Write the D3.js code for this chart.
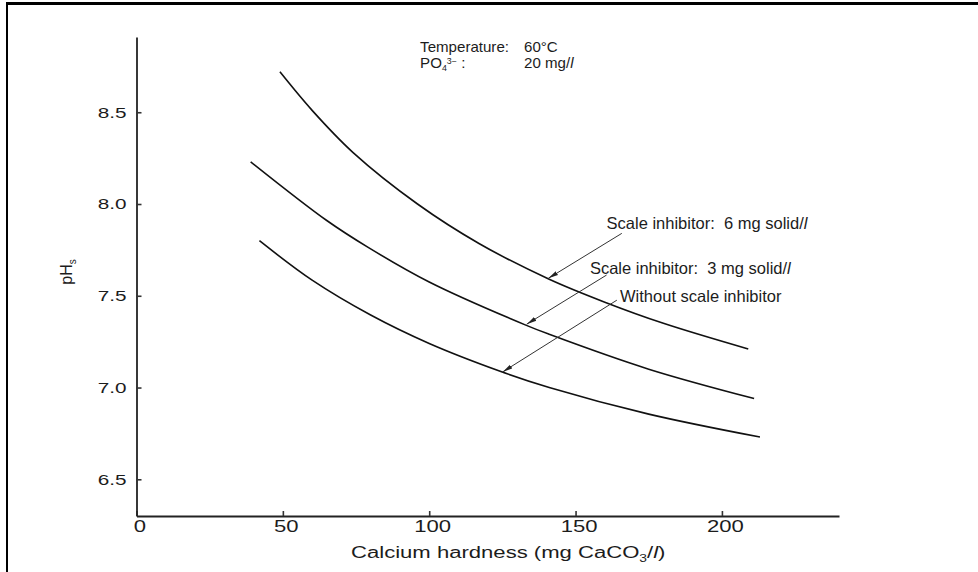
<!DOCTYPE html>
<html>
<head>
<meta charset="utf-8">
<script src="https://cdn.jsdelivr.net/npm/d3@7"></script>
<style>
    body { margin: 0; background: #fff; }
    text { font-family: "Liberation Sans", Arial, sans-serif; fill: #1c1c1c; white-space: pre; }
</style>
</head>
<body>
<svg id="chart" width="978" height="572"></svg>
<script>
// __________________________ data _______________________
// x = calcium hardness (mg CaCO3/l), y = pHs

var hardness6 = [49, 60, 74, 96, 117, 141, 160, 180, 209];
var ph6       = [8.72, 8.51, 8.28, 8.00, 7.785, 7.59, 7.465, 7.35, 7.21];

var hardness3 = [39, 65, 79, 100, 133, 141, 175, 211];
var ph3       = [8.23, 7.91, 7.765, 7.575, 7.34, 7.29, 7.10, 6.94];

var hardness0 = [42, 60, 80, 100, 124, 141, 175, 213];
var ph0       = [7.80, 7.585, 7.395, 7.24, 7.09, 7.00, 6.855, 6.73];

var seriesLabels = ["Scale inhibitor:  6 mg solid/l", "Scale inhibitor:  3 mg solid/l", "Without scale inhibitor"];
var labelAt   = [[160.6, 7.864], [154.9, 7.618], [165.2, 7.467]];
var arrowFrom = [[165.8, 7.84], [160.6, 7.613], [164.1, 7.476]];
var arrowTo   = [[140.7, 7.595], [133.3, 7.345], [125.1, 7.085]];

var xTicks = [0, 50, 100, 150, 200];
var yTicks = [6.5, 7.0, 7.5, 8.0, 8.5];
var xDomain = [0, 240];
var yDomain = [6.3, 8.91];

// ____________________________________________________________________________

var svg = d3.select("#chart");

// page frame (top and left edges of the scanned box)
svg.append("line").attr("x1", 6).attr("y1", 3.5).attr("x2", 978).attr("y2", 3.5)
    .attr("stroke", "#000").attr("stroke-width", 3);
svg.append("line").attr("x1", 7).attr("y1", 2).attr("x2", 7).attr("y2", 572)
    .attr("stroke", "#000").attr("stroke-width", 2);

var x = d3.scaleLinear().domain(xDomain).range([136.5, 839]);
var y = d3.scaleLinear().domain(yDomain).range([516, 37]);

// stretch axis texts horizontally like the original scan
function stretch(sel, k) {
    sel.each(function () {
        var w = this.getComputedTextLength();
        d3.select(this).attr("textLength", w * k).attr("lengthAdjust", "spacingAndGlyphs");
    });
}

var xAxis = svg.append("g")
    .attr("transform", "translate(0," + y(yDomain[0]) + ")")
    .call(d3.axisBottom(x).tickValues(xTicks).tickFormat(d3.format("d"))
        .tickSizeInner(-5).tickSizeOuter(0).tickPadding(4.5));

var yAxis = svg.append("g")
    .attr("transform", "translate(" + x(xDomain[0]) + ",0)")
    .call(d3.axisLeft(y).tickValues(yTicks).tickFormat(d3.format(".1f"))
        .tickSizeInner(-5).tickSizeOuter(0).tickPadding(10));

[xAxis, yAxis].forEach(function (g) {
    g.select(".domain").attr("stroke", "#222").attr("stroke-width", 1.8);
    g.selectAll(".tick line").attr("stroke", "#333").attr("stroke-width", 1.6);
    g.selectAll(".tick text")
        .attr("fill", "#1c1c1c")
        .style("font-family", "\"Liberation Sans\", Arial, sans-serif");
});
xAxis.selectAll(".tick text").style("font-size", "16px").attr("dx", 3).call(stretch, 1.38);
yAxis.selectAll(".tick text").style("font-size", "15px").call(stretch, 1.38);

// axis titles
var xTitle = svg.append("text")
    .attr("x", x(127)).attr("y", 557.5)
    .attr("text-anchor", "middle")
    .style("font-size", "16px");
xTitle.append("tspan").text("Calcium hardness (mg CaCO");
xTitle.append("tspan").text("3").style("font-size", "10px").attr("dy", 4);
xTitle.append("tspan").text("/").attr("dy", -4);
xTitle.append("tspan").text("l").style("font-style", "italic");
xTitle.append("tspan").text(")");
var tl = xTitle.node().getComputedTextLength();
xTitle.attr("textLength", tl * 1.38).attr("lengthAdjust", "spacingAndGlyphs");

var yTitle = svg.append("text")
    .attr("transform", "translate(72," + y(7.63) + ") rotate(-90)")
    .attr("text-anchor", "middle")
    .style("font-size", "16px");
yTitle.append("tspan").text("pH");
yTitle.append("tspan").text("s").style("font-size", "10px").attr("dy", 4);

// conditions note (two tight lines, like the original)
var note = svg.append("g").style("font-size", "14.5px");
var n1 = note.append("text").attr("x", x(96.9)).attr("y", y(8.83));
n1.append("tspan").text("Temperature:");
n1.append("tspan").attr("x", x(132.4)).text("60\u00b0C");
var n2 = note.append("text").attr("x", x(96.9)).attr("y", y(8.743));
n2.append("tspan").text("PO");
n2.append("tspan").text("4").style("font-size", "8.5px").attr("dy", 3);
n2.append("tspan").text("3\u2212").style("font-size", "8.5px").attr("dy", -7);
n2.append("tspan").text(" :").attr("dy", 4);
n2.append("tspan").attr("x", x(132.4)).text("20 mg/");
n2.append("tspan").text("l").style("font-style", "italic");
note.selectAll("text").call(stretch, 1.04);

// curves
var series = [
    { hx: hardness6, ph: ph6 },
    { hx: hardness3, ph: ph3 },
    { hx: hardness0, ph: ph0 }
];

var line = d3.line()
    .x((d) => x(d[0]))
    .y((d) => y(d[1]))
    .curve(d3.curveCatmullRom.alpha(0.5));

svg.selectAll(".curve")
    .data(series)
    .enter()
    .append("path")
    .attr("class", "curve")
    .attr("d", (s) => line(s.hx.map((h, i) => [h, s.ph[i]])))
    .attr("fill", "none")
    .attr("stroke", "#111")
    .attr("stroke-width", 1.6);

// arrows pointing at the curves
svg.append("defs").append("marker")
    .attr("id", "head")
    .attr("markerUnits", "userSpaceOnUse")
    .attr("viewBox", "0 -3 10 6")
    .attr("refX", 10).attr("refY", 0)
    .attr("markerWidth", 10).attr("markerHeight", 6)
    .attr("orient", "auto")
    .append("path")
    .attr("d", "M0,-2.2L10,0L0,2.2Z")
    .attr("fill", "#222");

svg.selectAll(".arrow")
    .data(arrowFrom)
    .enter()
    .append("line")
    .attr("class", "arrow")
    .attr("x1", (d) => x(d[0]))
    .attr("y1", (d) => y(d[1]))
    .attr("x2", (d, i) => x(arrowTo[i][0]))
    .attr("y2", (d, i) => y(arrowTo[i][1]))
    .attr("stroke", "#333")
    .attr("stroke-width", 1)
    .attr("marker-end", "url(#head)");

svg.selectAll(".series-label")
    .data(seriesLabels)
    .enter()
    .append("text")
    .attr("class", "series-label")
    .attr("x", (d, i) => x(labelAt[i][0]))
    .attr("y", (d, i) => y(labelAt[i][1]))
    .style("font-size", "16.5px")
    .each(function (d) {
        var t = d3.select(this);
        if (d.endsWith("/l")) {
            t.append("tspan").text(d.slice(0, -1));
            t.append("tspan").text("l").style("font-style", "italic");
        } else {
            t.text(d);
        }
    });
</script>
</body>
</html>
